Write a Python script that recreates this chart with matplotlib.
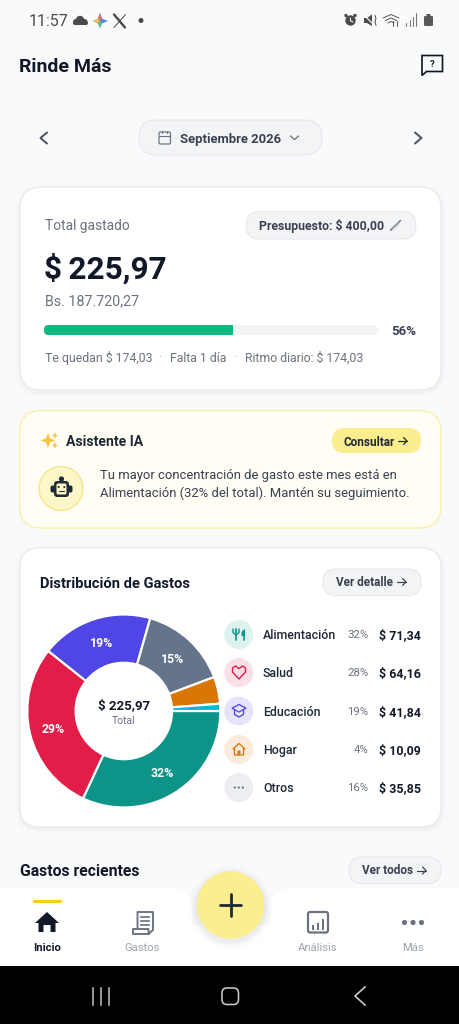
import math
import matplotlib
matplotlib.use("Agg")
import matplotlib.pyplot as plt
from matplotlib.patches import FancyBboxPatch, Circle, Polygon, Rectangle

# ---------- data ----------
slice_names = ["Alimentación", "Salud", "Educación", "Otros", "Hogar", "Resto"]
slice_values = [71.34, 64.16, 41.84, 33.16, 10.09, 2.69]
slice_labels = ["32%", "29%", "19%", "15%", "", ""]
slice_colors = ["#0D9488", "#E11D48", "#4F46E5", "#64748B", "#D97706", "#06B6D4"]

legend_names = ["Alimentación", "Salud", "Educación", "Hogar", "Otros"]
legend_pcts = ["32%", "28%", "19%", "4%", "16%"]
legend_amounts = ["$ 71,34", "$ 64,16", "$ 41,84", "$ 10,09", "$ 35,85"]
legend_bg = ["#DDF1EE", "#FBDFE6", "#E6E3FB", "#FBEBDC", "#ECEEF2"]

spent = 225.97
budget = 400.0

DARK = "#111827"
GREY = "#6B7280"
MID = "#374151"
BG = "#F9FAFB"
SANS = ["Roboto", "DejaVu Sans"]

fig = plt.figure(figsize=(4.6, 10.24), dpi=100, facecolor=BG)
ax = fig.add_axes([0, 0, 1, 1])
ax.set_xlim(0, 460)
ax.set_ylim(1024, 0)
ax.axis("off")


def px(v):
    return v * 0.72


def rr(x0, y0, x1, y1, r, fc, ec="none", lw=1.0, z=2, alpha=None):
    p = FancyBboxPatch((x0, y0), x1 - x0, y1 - y0,
                       boxstyle=f"round,pad=0,rounding_size={r}",
                       fc=fc, ec=ec, lw=px(lw), zorder=z, alpha=alpha)
    ax.add_patch(p)
    return p


def txt(x, y, s, size, color=DARK, weight="normal", ha="left", family=SANS, z=6):
    return ax.text(x, y, s, fontsize=px(size), color=color, fontweight=weight, ha=ha,
                   va="center_baseline", family=family, zorder=z)


def line(xs, ys, color=MID, lw=1.5, z=6):
    ax.plot(xs, ys, color=color, lw=px(lw), solid_capstyle="round",
            solid_joinstyle="round", zorder=z)


def circ(x, y, r, fc, ec="none", lw=1.0, z=5):
    ax.add_patch(Circle((x, y), r, fc=fc, ec=ec, lw=px(lw), zorder=z))


def poly(pts, fc, z=6, ec="none", lw=1.0):
    ax.add_patch(Polygon(pts, closed=True, fc=fc, ec=ec, lw=px(lw), zorder=z))


def shadow(x0, y0, x1, y1, r, dy=2):
    for g, a in ((5, .008), (3, .012), (1.5, .015)):
        rr(x0 - g, y0 - g + dy, x1 + g, y1 + g + dy, r + g, "#1F2937", z=1, alpha=a)


def arrow(x, y, color=DARK, w=8.5):
    line([x, x + w], [y, y], color, 1.2)
    line([x + w - 3.5, x + w, x + w - 3.5], [y - 3.5, y, y + 3.5], color, 1.2)


def pill(x0, y0, x1, y1, fc="#F3F4F6", ec="#E5E7EB"):
    rr(x0, y0, x1, y1, (y1 - y0) / 2, fc, ec, 1.0, z=3)


# ---------- status bar ----------
S = "#4B4B4B"
txt(29, 20.5, "11:57", 16, S)
for cx, cy, r in ((76, 22, 3), (80, 20, 4.2), (84.5, 22, 3)):
    circ(cx, cy, r, S)
rr(73, 21, 88, 25, 2, S, z=5)
poly([(100, 13), (102, 18.5), (108, 21), (102, 23.5), (100, 28), (98, 23.5), (93, 21), (98, 18.5)], "#4F8FEA")
poly([(100, 13), (102, 18.5), (100, 21), (98, 18.5)], "#E86A5C", z=7)
poly([(93, 21), (98, 18.5), (100, 21), (98, 23.5)], "#F2C14E", z=7)
poly([(100, 21), (102, 23.5), (100, 28), (98, 23.5)], "#5FBF86", z=7)
line([114, 125], [14.5, 27.5], S, 2.4)
line([125.5, 114], [14.5, 27.5], S, 1.0)
circ(141, 20.5, 2.5, S)
# alarm
circ(350.5, 20.5, 5.2, S)
circ(346, 15.5, 1.7, S)
circ(355, 15.5, 1.7, S)
line([350.5, 350.5, 353], [18, 21, 22], "white", 1)
# mute
poly([(364, 18), (367, 18), (372, 14.5), (372, 26), (367, 23), (364, 23)], S)
line([364, 375], [15, 26], BG, 1.2, z=7)
line([375, 376, 375, 376], [15.5, 18.5, 22, 25.5], S, 1)
# wifi
line([383, 391, 399], [18, 14.5, 18], "#5A5A5A", 1)
line([385.5, 391, 396.5], [20.5, 18, 20.5], "#5A5A5A", 1)
line([388, 391, 394], [23, 21.5, 23], "#5A5A5A", 1)
line([397, 397], [21, 26], "#5A5A5A", 1)
line([393, 393], [21, 26], "#5A5A5A", 1)
# signal
for i, h in enumerate((3, 6, 9, 13)):
    line([406.5 + i * 3.3] * 2, [25.5 - h, 25.5], "#7A7A7A", 1.1)
# battery
rr(424, 16, 433, 26, 1.2, "#5A5A5A", z=5)
rr(426.5, 14, 430.5, 17, .5, "#5A5A5A", z=5)

# ---------- header ----------
txt(19, 65.5, "Rinde Más", 19.5, DARK, "bold")
poly([(422, 55.5), (442.5, 55.5), (442.5, 71.5), (426.5, 71.5), (422, 75.5)], "none", ec=DARK, lw=1.7)
txt(432.3, 63.5, "?", 9.5, DARK, "bold", ha="center")

line([47, 40.5, 47], [132.5, 138, 143.5], "#4B5563", 2)
line([415, 421.5, 415], [132.5, 138, 143.5], "#4B5563", 2)
pill(139, 120, 322, 155)
rr(159, 132, 170.5, 144, 1.5, "none", "#6B7280", 1.2, z=5)
line([159, 170.5], [135.5, 135.5], "#6B7280", 1.1)
line([162, 162], [130.5, 133], "#6B7280", 1.1)
line([167.5, 167.5], [130.5, 133], "#6B7280", 1.1)
txt(180, 137.5, "Septiembre 2026", 13, MID, "semibold")
line([290.5, 294.5, 298.5], [136, 139.5, 136], "#6B7280", 1.3)

# ---------- total card ----------
shadow(20, 187, 441, 390, 22)
rr(20, 187, 441, 390, 22, "white", "#E8EAEE", 1.2)
txt(45, 224.7, "Total gastado", 13.7, GREY)
pill(246, 211.5, 416, 239)
txt(259.5, 224.5, "Presupuesto: $ 400,00", 12.3, MID, "semibold")
line([391, 398], [230, 223.5], GREY, 2.2)
line([391.6, 398.5], [230, 223.5], "#F3F4F6", .7, z=7)
line([398.5, 400.5], [222.5, 220.5], GREY, 1.5)
txt(44.5, 265.5, "$\u2009225,97", 31.5, DARK, "bold")
txt(45, 299.7, "Bs. 187.720,27", 14.2, GREY)
bar_x0, bar_x1 = 44, 378
rr(bar_x0, 325, bar_x1, 335, 5, "#F3F4F6", z=3)
bar_w = (bar_x1 - bar_x0) * spent / budget
rr(bar_x0, 325, bar_x0 + bar_w, 335, 4.5, "#10B981", z=4)
ax.add_patch(Rectangle((bar_x0 + bar_w - 6, 325), 6, 10, fc="#10B981", ec="none", zorder=4))
txt(416, 330.2, "56%", 13.2, MID, "semibold", ha="right")
txt(45, 356.5, "Te quedan $ 174,03", 12.2, GREY)
txt(159.5, 356, "·", 12, "#9CA3AF", ha="center")
txt(170, 356.5, "Falta 1 día", 12.2, GREY)
txt(235, 356, "·", 12, "#9CA3AF", ha="center")
txt(245, 356.5, "Ritmo diario: $ 174,03", 12.2, GREY)

# ---------- assistant card ----------
rr(19.5, 410.5, 441, 528, 22, "#FFFDF4", "#FBF0A9", 1.4)
poly([(48, 433), (50, 438.5), (55.5, 440.5), (50, 442.5), (48, 448), (46, 442.5), (40.5, 440.5), (46, 438.5)], "#F5C542")
poly([(55, 432), (56, 434.5), (58, 435.5), (56, 436.5), (55, 439), (54, 436.5), (52, 435.5), (54, 434.5)], "#F5C542")
poly([(55, 442), (56, 444.5), (58, 445.5), (56, 446.5), (55, 449), (54, 446.5), (52, 445.5), (54, 444.5)], "#F5C542")
txt(66, 441, "Asistente IA", 14, "#1F2937", "semibold")
rr(332, 428, 421, 453, 12.5, "#FBEE8F", z=3)
txt(344, 440.5, "Consultar", 11.7, "#1F2937", "semibold")
arrow(398.5, 441, "#1F2937")
circ(61, 488.5, 22, "#FDF6C8", "#F7E382", 1.2, z=3)
K = "#1F2937"
rr(50.5, 485.5, 72.5, 492.5, 2, K, z=4)
rr(54, 481, 69, 497, 3.5, K, z=5)
rr(56.5, 483.5, 66.5, 494.5, 1.5, "#FDF6C8", z=6)
circ(61.5, 479, 2.6, K)
circ(58.7, 487, 1.0, K, z=7)
circ(64.3, 487, 1.0, K, z=7)
line([59, 64], [491.3, 491.3], K, 1, z=7)
txt(100, 474.5, "Tu mayor concentración de gasto este mes está en", 13, MID)
txt(100, 491.5, "Alimentación (32% del total). Mantén su seguimiento.", 13, MID)

# ---------- distribution card ----------
shadow(20, 548, 441, 827, 20)
rr(20, 548, 441, 827, 20, "white", "#E8EAEE", 1.2)
txt(40, 582.5, "Distribución de Gastos", 14.8, DARK, "bold")
pill(323, 569, 421, 595.5)
txt(336, 581.2, "Ver detalle", 11.7, MID, "semibold")
arrow(397.5, 582, MID)

cx, cy, R = 123.8, 711, 96.5
pie_ax = fig.add_axes([(cx - R) / 460, 1 - (cy + R) / 1024, 2 * R / 460, 2 * R / 1024], zorder=3)
wedges, _ = pie_ax.pie(slice_values, colors=slice_colors, startangle=0, counterclock=False,
                       radius=1.0, wedgeprops=dict(width=0.5, edgecolor="white", linewidth=px(2.2)))
pie_ax.set_xlim(-1, 1)
pie_ax.set_ylim(-1, 1)
pie_ax.set_aspect("equal")
pie_ax.patch.set_alpha(0)
total = sum(slice_values)
acc = 0.0
for v, lab in zip(slice_values, slice_labels):
    mid = -(acc + v / 2) / total * 2 * math.pi
    acc += v
    if lab:
        pie_ax.text(0.75 * math.cos(mid), 0.75 * math.sin(mid), lab, color="white",
                    fontsize=px(12.3), fontweight="semibold", ha="center", va="center_baseline", family=SANS)
pie_ax.text(0, 0.07, "$ 225,97", color=DARK, fontsize=px(13.2), fontweight="semibold",
            ha="center", va="center_baseline", family=SANS)
pie_ax.text(0, -0.09, "Total", color=GREY, fontsize=px(10.4), ha="center", va="center_baseline", family=SANS)

row_y = [634.5, 672.5, 711, 749.5, 787.5]
for y, n, p, a, bg in zip(row_y, legend_names, legend_pcts, legend_amounts, legend_bg):
    circ(238.8, y, 14.5, bg, z=3)
    txt(263, y - .3, n, 12.4, "#1F2937", "medium")
    txt(368.5, y - .3, p, 11.4, "#6B7280", ha="right")
    txt(421, y - .3, a, 12.4, DARK, "semibold", ha="right")
c = "#0D9488"
line([233, 233, 236, 239, 239], [629, 632.5, 635, 632.5, 629], c, 1.4)
line([236, 236], [629, 640], c, 1.7)
poly([(241.5, 636), (241.5, 632), (245, 628.5), (245, 636)], c)
line([244.3, 244.3], [635, 640], c, 1.7)
c = "#E11D48"
ht = [(239, 679), (232.5, 672), (232.5, 668), (235.5, 666), (239, 668.5), (242.5, 666), (245.5, 668), (245.5, 672)]
poly(ht, "none", ec=c, lw=1.4)
c = "#4F46E5"
poly([(239, 704.5), (246, 708.2), (239, 712), (232, 708.2)], "none", ec=c, lw=1.3)
line([234.5, 234.5, 239, 243.5, 243.5], [710, 714.5, 717, 714.5, 710], c, 1.3)
c = "#D97706"
poly([(239, 743.5), (245, 749), (243.5, 749), (243.5, 755), (234.5, 755), (234.5, 749), (233, 749)], "none", ec=c, lw=1.3)
rr(237.5, 750.5, 240.5, 755, .5, c, z=6)
for dx in (-4, 0, 4):
    circ(238.8 + dx, 787.5, 1.1, "#6B7280", z=6)

# ---------- recent ----------
txt(20, 870.5, "Gastos recientes", 15.7, DARK, "bold")
pill(349, 857, 441, 883.5)
txt(362, 869.3, "Ver todos", 11.7, MID, "semibold")
arrow(417.5, 870.5, MID)

# ---------- bottom nav ----------
rr(-30, 888, 192, 1000, 22, "white", z=7)
rr(270, 888, 490, 1000, 22, "white", z=7)
ax.add_patch(Rectangle((170, 925), 120, 50, fc="white", ec="none", zorder=7))
Z = 9
for g, a in ((8, .008), (6, .012), (4, .02), (2, .03)):
    ax.add_patch(Circle((230.6, 907.5), 34 + g, fc="#111827", ec="none", alpha=a, zorder=8))
ax.add_patch(Circle((230.6, 905), 33.8, fc="#FBEE8F", ec="none", zorder=Z))
ax.plot([219.8, 241.4], [905, 905], color="#1F2937", lw=px(2.8), solid_capstyle="round", zorder=Z + 1)
ax.plot([230.6, 230.6], [894, 916], color="#1F2937", lw=px(2.8), solid_capstyle="round", zorder=Z + 1)
rr(33, 900, 62, 903, 1.5, "#FACC15", z=Z)
poly([(47, 912), (59, 923), (55.5, 923), (55.5, 932), (50.5, 932), (50.5, 925), (43.5, 925), (43.5, 932), (38.5, 932), (38.5, 923), (35, 923)], "#111827", z=Z)
G = "#6B7280"
ax.plot([137.5, 137.5, 153, 153, 148.5, 148.5, 133, 133, 148.5],
        [928, 912, 912, 930, 934, 929, 929, 934, 934], color=G, lw=px(1.9), zorder=Z, solid_joinstyle="round")
for yy in (917, 921, 925):
    ax.plot([141, 149], [yy, yy], color=G, lw=px(1.7), zorder=Z)
rr(308, 912, 328, 932.5, 2, "none", G, 2.2, z=Z)
for xx, h in ((313, 3), (318, 5), (323, 9)):
    ax.plot([xx, xx], [928.5 - h, 928.5], color=G, lw=px(2), zorder=Z)
for dx in (-8.5, 0, 8.5):
    ax.add_patch(Circle((413 + dx, 922.5), 2.6, fc=G, ec="none", zorder=Z))
for x, s, col, w in ((47.5, "Inicio", DARK, "semibold"), (142.5, "Gastos", "#9CA3AF", "normal"),
                     (318, "Análisis", "#9CA3AF", "normal"), (413, "Más", "#9CA3AF", "normal")):
    txt(x, 946.7, s, 11.2, col, w, ha="center", z=Z)

# ---------- system bar ----------
ax.add_patch(Rectangle((0, 966), 460, 58, fc="black", ec="none", zorder=Z))
W = "#C9C9C9"
for xx in (93.5, 101.5, 109):
    ax.plot([xx, xx], [988, 1004.5], color=W, lw=px(1.5), zorder=Z + 1)
rr(222, 988, 238.5, 1004.5, 5, "none", W, 1.6, z=Z + 1)
ax.plot([365, 355, 365], [987, 996, 1005], color=W, lw=px(1.7), zorder=Z + 1)

fig.savefig("out.png", dpi=100, facecolor=BG)
